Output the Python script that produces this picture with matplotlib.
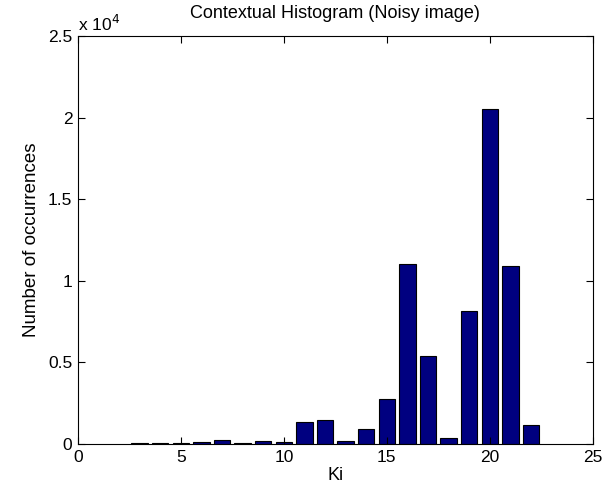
import numpy as np
import matplotlib
matplotlib.use("Agg")
import matplotlib.pyplot as plt
from matplotlib.ticker import FuncFormatter

# Contextual histogram counts
ki = [3, 4, 5, 6, 7, 8, 9, 10, 11, 12, 13, 14, 15, 16, 17, 18, 19, 20, 21, 22]
counts = [60, 60, 80, 120, 230, 60, 180, 140, 1370, 1490, 180, 900,
          2760, 11000, 5390, 350, 8170, 20530, 10930, 1180]

plt.rcParams['font.family'] = ['Liberation Sans', 'DejaVu Sans']

fig = plt.figure(figsize=(6.13, 4.86), dpi=100)
ax = fig.add_axes([0.127, 0.0864, 0.840, 0.8396])

ax.bar(ki, counts, width=0.8, color='#000080', edgecolor='black', linewidth=0.8)

ax.set_xlim(0, 25)
ax.set_ylim(0, 25000)
ax.set_xticks([0, 5, 10, 15, 20, 25])
ax.set_yticks(np.arange(0, 25001, 5000))
ax.yaxis.set_major_formatter(FuncFormatter(lambda v, p: f"{v/1e4:g}"))
ax.tick_params(direction='in', length=5, labelsize=12.5, top=True, right=True, pad=4)
for s in ax.spines.values():
    s.set_linewidth(0.8)

ax.text(0.0, 1.005, r'x 10$^4$', transform=ax.transAxes, fontsize=12.5,
        ha='left', va='bottom')
ax.set_title('Contextual Histogram (Noisy image)', fontsize=13, pad=13)
ax.set_xlabel('Ki', fontsize=13, labelpad=2)
ax.set_ylabel('Number of occurrences', fontsize=13.5, labelpad=6)

fig.savefig('out.png', dpi=100)
